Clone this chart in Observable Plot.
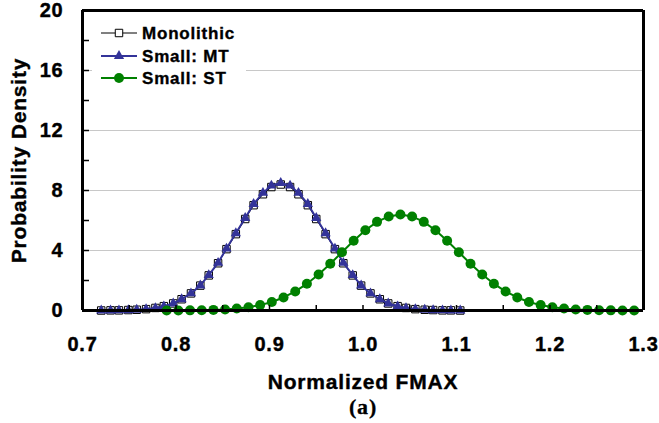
<!DOCTYPE html>
<html><head><meta charset="utf-8">
<script src="https://cdn.jsdelivr.net/npm/d3@7"></script>
<script src="https://cdn.jsdelivr.net/npm/@observablehq/plot@0.6"></script>
<style>body{margin:0;background:#fff}</style>
</head><body><div id="chart"></div>
<script>
const seriesNames = ["Monolithic", "Small: MT", "Small: ST"];
const seriesColors = ["black", "#333399", "#008000"];

const monoX = [0.720,0.730,0.739,0.749,0.758,0.768,0.778,0.787,0.797,0.806,0.816,0.826,0.835,0.845,0.854,0.864,0.874,0.883,0.893,0.902,0.912,0.922,0.931,0.941,0.950,0.960,0.970,0.979,0.989,0.998,1.008,1.018,1.027,1.037,1.046,1.056,1.066,1.075,1.085,1.094,1.104];
const monoY = [0.00,0.01,0.01,0.03,0.05,0.09,0.17,0.29,0.47,0.75,1.14,1.66,2.34,3.15,4.09,5.09,6.10,7.02,7.75,8.23,8.40,8.23,7.75,7.02,6.10,5.09,4.09,3.15,2.34,1.66,1.14,0.75,0.47,0.29,0.17,0.09,0.05,0.03,0.01,0.01,0.00];
const mtX = monoX;
const mtY = [0.00,0.00,0.01,0.02,0.05,0.09,0.16,0.28,0.47,0.75,1.14,1.67,2.36,3.18,4.13,5.15,6.17,7.10,7.84,8.33,8.50,8.33,7.84,7.10,6.17,5.15,4.13,3.18,2.36,1.67,1.14,0.75,0.47,0.28,0.16,0.09,0.05,0.02,0.01,0.00,0.00];
const stX = [0.79,0.8025,0.815,0.8275,0.84,0.8525,0.865,0.8775,0.89,0.9025,0.915,0.9275,0.94,0.9525,0.965,0.9775,0.99,1.0025,1.015,1.0275,1.04,1.0525,1.065,1.0775,1.09,1.1025,1.115,1.1275,1.14,1.1525,1.165,1.1775,1.19,1.2025,1.215,1.2275,1.24,1.2525,1.265,1.2775,1.29];
const stY = [0.00,0.00,0.01,0.02,0.04,0.07,0.13,0.22,0.36,0.57,0.87,1.27,1.78,2.40,3.12,3.88,4.65,5.35,5.91,6.27,6.40,6.27,5.91,5.35,4.65,3.88,3.12,2.40,1.78,1.27,0.87,0.57,0.36,0.22,0.13,0.07,0.04,0.02,0.01,0.00,0.00];

const yTickLabels = [0, 4, 8, 12, 16, 20];
const yTicks = [0, 2, 4, 6, 8, 10, 12, 14, 16, 18, 20];
const gridValues = [4, 8, 12, 16];
const xTickLabels = [0.7, 0.8, 0.9, 1.0, 1.1, 1.2, 1.3];
const xTicks = [0.75, 0.8, 0.85, 0.9, 0.95, 1.0, 1.05, 1.1, 1.15, 1.2, 1.25];
const xDomain = [0.7, 1.3];
const yDomain = [0, 20];
const xTitle = "Normalized FMAX";
const yTitle = "Probability Density";
const caption = "(a)";

const mono = monoX.map((x, i) => ({x, y: monoY[i]}));
const mt = mtX.map((x, i) => ({x, y: mtY[i]}));
const st = stX.map((x, i) => ({x, y: stY[i]}));

const boldFont = "'Liberation Sans', Arial, sans-serif";
const heavy = {fontWeight: "bold", fill: "black", stroke: "black", strokeWidth: 0.4};

const plot = Plot.plot({
  width: 659, height: 423,
  marginLeft: 82, marginRight: 16, marginTop: 10, marginBottom: 113,
  x: {domain: xDomain},
  y: {domain: yDomain},
  style: {fontFamily: boldFont, background: "white", letterSpacing: "0.8px", color: "black"},
  marks: [
    Plot.gridY(gridValues, {stroke: "#c8c8c8", strokeOpacity: 1, strokeWidth: 1}),
    Plot.line(mono, {x: "x", y: "y", stroke: seriesColors[0], strokeWidth: 1}),
    Plot.dot(mono, {x: "x", y: "y", symbol: "square", r: 4.2, stroke: seriesColors[0], fill: "none", strokeWidth: 1}),
    Plot.line(mt, {x: "x", y: "y", stroke: seriesColors[1], strokeWidth: 2}),
    Plot.dot(mt, {x: "x", y: "y", symbol: "triangle", r: 3.8, fill: seriesColors[1], stroke: "none"}),
    Plot.line(st, {x: "x", y: "y", stroke: seriesColors[2], strokeWidth: 2}),
    Plot.dot(st, {x: "x", y: "y", r: 5, fill: seriesColors[2], stroke: "none"}),
    Plot.axisY(yTicks, {tickSize: -7, fill: "none", label: null, strokeWidth: 1.5}),
    Plot.axisY(yTickLabels, {tickSize: 0, tickPadding: 19, fontSize: 20, fontWeight: "bold", textStroke: "black", textStrokeWidth: 0.4, label: null}),
    Plot.axisX(xTicks, {tickSize: -5, fill: "none", label: null, strokeWidth: 1.5}),
    Plot.axisX(xTickLabels, {tickSize: 0, tickPadding: 26, fontSize: 20, fontWeight: "bold", textStroke: "black", textStrokeWidth: 0.4, tickFormat: d3.format(".1f"), label: null}),
    Plot.ruleX(xDomain, {stroke: "black", strokeWidth: 3}),
    Plot.ruleY(yDomain, {stroke: "black", strokeWidth: 3}),
    Plot.text([xTitle], {text: d => d, frameAnchor: "bottom", textAnchor: "middle", dy: 78, lineAnchor: "bottom", fontSize: 21, ...heavy}),
    Plot.text([yTitle], {text: d => d, frameAnchor: "left", textAnchor: "middle", dx: -57, rotate: -90, lineAnchor: "bottom", fontSize: 21, ...heavy}),
    Plot.text([caption], {text: d => d, frameAnchor: "bottom", textAnchor: "middle", dy: 103, lineAnchor: "bottom", fontSize: 22, ...heavy, strokeWidth: 0.3, fontFamily: "'Liberation Serif', 'Times New Roman', serif"})
  ]
});

// legend inside plot area
const svg = d3.select(plot);
const lg = svg.append("g").attr("class", "legend");
lg.append("rect").attr("x", 92).attr("y", 14).attr("width", 154).attr("height", 76).attr("fill", "white");
const symbols = [d3.symbolSquare, d3.symbolTriangle, d3.symbolCircle];
const sizes = [Math.PI * 4.2 * 4.2, Math.PI * 3.8 * 3.8, Math.PI * 5 * 5];
const rowY = [33, 56, 78];
seriesNames.forEach((name, i) => {
  const g = lg.append("g").attr("transform", `translate(0,${rowY[i]})`);
  g.append("line").attr("x1", 101).attr("x2", 137).attr("y1", 0).attr("y2", 0)
    .attr("stroke", seriesColors[i]).attr("stroke-width", i === 0 ? 1 : 2);
  const p = g.append("path").attr("transform", "translate(119,0)")
    .attr("d", d3.symbol(symbols[i], sizes[i])());
  if (i === 0) p.attr("fill", "white").attr("stroke", "black");
  else p.attr("fill", seriesColors[i]);
  g.append("text").attr("x", 142).attr("y", 6).attr("text-anchor", "start")
    .attr("font-size", 17).attr("font-weight", "bold")
    .attr("stroke", "black").attr("stroke-width", 0.35)
    .attr("fill", "black").text(name);
});

document.getElementById("chart").append(plot);
</script>
</body></html>
